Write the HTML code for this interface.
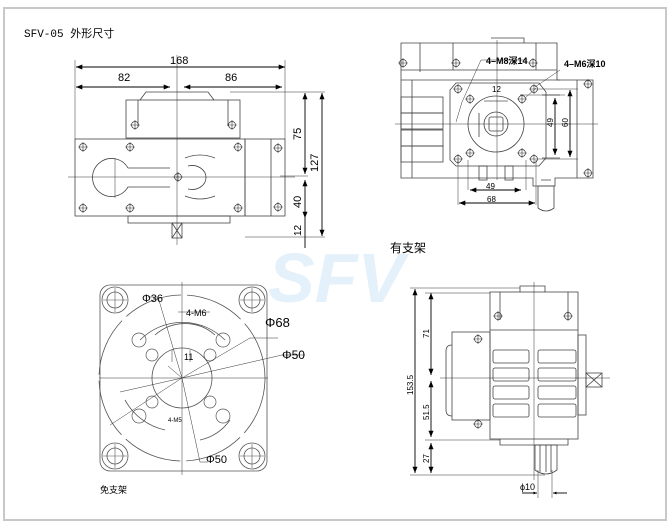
<!DOCTYPE html>
<html><head><meta charset="utf-8"><style>
html,body{margin:0;padding:0;background:#fff}
svg{display:block}
text{font-family:"Liberation Sans","Noto Sans CJK SC",sans-serif;fill:#000}
</style></head><body>
<svg width="670" height="525" viewBox="0 0 670 525" xmlns="http://www.w3.org/2000/svg">
<defs>
<marker id="a" viewBox="0 0 10 10" refX="10" refY="5" markerWidth="7" markerHeight="7" orient="auto-start-reverse"><path d="M0,1 L10,5 L0,9z" fill="#000"/></marker>
<marker id="s" viewBox="0 0 10 10" refX="10" refY="5" markerWidth="4" markerHeight="4" orient="auto-start-reverse"><path d="M0,1 L10,5 L0,9z" fill="#000"/></marker>
<g id="scr"><circle r="3.5" fill="none" stroke="#333" stroke-width=".7"/><path d="M-5,0H5M0,-5V5" stroke="#333" stroke-width=".6"/></g>
<g id="hole"><circle r="13" fill="none" stroke="#555" stroke-width=".8"/><circle r="8" fill="none" stroke="#555" stroke-width=".8"/><path d="M-12,0H12M0,-12V12" stroke="#555" stroke-width=".6"/></g>
</defs>
<rect x="4" y="8" width="662" height="512" fill="none" stroke="#c8c8c8" stroke-width="2"/>
<text x="24" y="37" font-size="11" style="font-family:'Liberation Mono','Noto Sans CJK SC',monospace">SFV-05 外形尺寸</text>

<text x="268" y="302" font-size="70" font-weight="bold" font-style="italic" style="fill:#e4f1fa">SFV</text>

<!-- ===== top-left view ===== -->
<g fill="none" stroke="#444" stroke-width=".8">
<path d="M140,100 L146,92 H208 L214,100"/>
<rect x="126" y="100" width="114" height="38"/>
<path d="M138,100V126 M228,100V126"/>
<rect x="75" y="139" width="170" height="77"/>
<rect x="245" y="139" width="40" height="77"/>
<path d="M271,139V216"/>
<rect x="128" y="216" width="102" height="7"/>
<rect x="172" y="223" width="10" height="15"/><path d="M172,223 L182,238 M182,223 L172,238"/>
<path d="M128,168 A19,19 0 1 0 128,187 H170 M128,168 H170"/>
<path d="M188,166 A14,12 0 1 1 188,189"/>
<path d="M185,158 q15,-6 30,0 M185,196 q15,6 30,0"/>
</g>
<g stroke="#333" stroke-width=".5" fill="none">
<path d="M177,55V245 M68,177H295 M115,158V198"/>
<path d="M75,60V139 M285,60V139"/>
<path d="M230,92H325 M245,237H325 M280,176H308"/>
</g>
<g>
<use href="#scr" x="83" y="147"/><use href="#scr" x="83" y="208"/><use href="#scr" x="130" y="147"/><use href="#scr" x="130" y="208"/>
<use href="#scr" x="238" y="147"/><use href="#scr" x="238" y="208"/><use href="#scr" x="135" y="125"/><use href="#scr" x="232" y="125"/>
<use href="#scr" x="278" y="148"/><use href="#scr" x="278" y="207"/><use href="#scr" x="178" y="177"/>
</g>
<g stroke="#000" stroke-width=".9" fill="none">
<line x1="76" y1="67" x2="285" y2="67" marker-start="url(#a)" marker-end="url(#a)"/>
<line x1="76" y1="87" x2="170" y2="87" marker-start="url(#a)" marker-end="url(#a)"/>
<line x1="184" y1="87" x2="282" y2="87" marker-start="url(#a)" marker-end="url(#a)"/>
<line x1="305" y1="93" x2="305" y2="174" marker-start="url(#a)" marker-end="url(#a)"/>
<line x1="305" y1="180" x2="305" y2="218" marker-start="url(#a)" marker-end="url(#a)"/>
<line x1="305" y1="218" x2="305" y2="248"/>
<line x1="322" y1="93" x2="322" y2="236" marker-start="url(#a)" marker-end="url(#a)"/>
</g>
<text x="170" y="64" font-size="11">168</text>
<text x="118" y="81" font-size="11">82</text>
<text x="225" y="81" font-size="11">86</text>
<text transform="translate(301,140) rotate(-90)" font-size="11">75</text>
<text transform="translate(301,208) rotate(-90)" font-size="11">40</text>
<text transform="translate(301,236) rotate(-90)" font-size="10">12</text>
<text transform="translate(318,172) rotate(-90)" font-size="11">127</text>

<!-- ===== top-right view ===== -->
<g fill="none" stroke="#444" stroke-width=".8">
<path d="M401,43 H557 V80 H593 V178 H555 V186 H533 V178 H401 Z"/>
<path d="M420,43V72 M401,70H557 M453,43V70 M536,43V70 M491,38H524V43"/>
<path d="M401,80H560"/>
<rect x="401" y="97" width="42" height="16"/><rect x="401" y="113" width="42" height="16"/><rect x="401" y="130" width="42" height="16"/><rect x="401" y="146" width="42" height="16"/>
<path d="M412,80V178"/>
<path d="M456,83 H539 L546,92 V158 L539,166 H456 L450,160 V90Z"/>
<circle cx="496" cy="124" r="28"/>
<circle cx="496" cy="124" r="12"/><rect x="489" y="117" width="14" height="14" rx="2"/>
<path d="M542,95 H560 M542,158 H560 M577,80 V178"/>
<rect x="479" y="166" width="8" height="14"/><rect x="505" y="166" width="8" height="14"/>
<path d="M538,186 h16 v22 q-8,6 -16,0 z M541,180h10"/>
</g>
<g stroke="#333" stroke-width=".5" fill="none">
<path d="M497,40V180 M395,124H598"/>
<path d="M458,160V205 M536,160V205 M468,160V190 M526,160V190"/>
<path d="M539,89H578 M539,159H578 M520,95H565"/>
<path d="M462,102L456,122 M525,98L536,88 M535,87L560,70 M462,102L481,60 M481,60H527"/>
</g>
<g><use href="#scr" x="458" y="89"/><use href="#scr" x="534" y="89"/><use href="#scr" x="458" y="159"/><use href="#scr" x="534" y="159"/>
<use href="#scr" x="470" y="99"/><use href="#scr" x="522" y="99"/><use href="#scr" x="470" y="153"/><use href="#scr" x="522" y="153"/>
<use href="#scr" x="403" y="63"/><use href="#scr" x="456" y="63"/><use href="#scr" x="533" y="63"/><use href="#scr" x="588" y="84"/><use href="#scr" x="588" y="173"/></g>
<g stroke="#000" stroke-width=".9" fill="none">
<line x1="470" y1="190" x2="521" y2="190" marker-start="url(#a)" marker-end="url(#a)"/>
<line x1="459" y1="203" x2="535" y2="203" marker-start="url(#a)" marker-end="url(#a)"/>
<line x1="555" y1="98" x2="555" y2="155" marker-start="url(#a)" marker-end="url(#a)"/>
<line x1="570" y1="90" x2="570" y2="157" marker-start="url(#a)" marker-end="url(#a)"/>
<line x1="484" y1="101" x2="508" y2="101" stroke-width=".6"/>
<line x1="479" y1="113" x2="479" y2="137" stroke-width=".6"/>
</g>
<text x="486" y="64" font-size="9" font-weight="bold">4–M8深14</text>
<text x="564" y="67" font-size="9" font-weight="bold">4–M6深10</text>
<text x="492" y="92" font-size="8">12</text>
<text x="486" y="189" font-size="8">49</text>
<text x="487" y="202" font-size="8">68</text>
<text transform="translate(553,127) rotate(-90)" font-size="8">49</text>
<text transform="translate(568,127) rotate(-90)" font-size="8">60</text>
<text x="390" y="252" font-size="12">有支架</text>

<!-- ===== bottom-left view ===== -->
<g fill="none" stroke="#555" stroke-width=".8">
<rect x="100" y="285" width="167" height="186" rx="10"/>
<circle cx="182" cy="378" r="83" stroke-dasharray="60 6"/>
<circle cx="182" cy="378" r="30"/>
<path d="M155,335 a45,45 0 0 1 60,0 M140,340 a60,60 0 0 1 85,0 M125,400 a60,60 0 0 0 40,30 M200,440 a50,50 0 0 0 30,-20" />
</g>
<g><use href="#hole" x="115" y="300"/><use href="#hole" x="252" y="300"/><use href="#hole" x="115" y="456"/><use href="#hole" x="252" y="456"/></g>
<g fill="none" stroke="#555" stroke-width=".7">
<circle cx="139" cy="340" r="7"/><circle cx="152" cy="355" r="6"/><circle cx="223" cy="340" r="7"/><circle cx="210" cy="355" r="6"/>
<circle cx="139" cy="416" r="7"/><circle cx="152" cy="402" r="6"/><circle cx="223" cy="416" r="7"/><circle cx="210" cy="402" r="6"/>
</g>
<g stroke="#333" stroke-width=".5" fill="none">
<path d="M182,282V475 M99,378H268"/>
<path d="M182,378L158,297 M182,378L250,338 M182,378L282,355 M182,378L120,392 M182,378L110,425 M182,378L200,462 M182,378L168,366"/>
<path d="M148,297H158 M250,338H278 M282,355H305 M200,462H208 M178,312H210"/>
<path d="M172,362V350 M190,362V350"/>
</g>
<text x="142" y="302" font-size="11">Φ36</text>
<text x="186" y="316" font-size="9">4-M6</text>
<text x="265" y="327" font-size="13">Φ68</text>
<text x="282" y="359" font-size="12">Φ50</text>
<text x="184" y="360" font-size="9">11</text>
<text x="168" y="422" font-size="6">4-M5</text>
<text x="206" y="463" font-size="11">Φ50</text>
<text x="100" y="493" font-size="9">免支架</text>

<!-- ===== bottom-right view ===== -->
<g fill="none" stroke="#444" stroke-width=".8">
<rect x="490" y="292" width="88" height="147"/>
<path d="M490,330H578 M500,292V320 M568,292V320 M520,292V286H545V292"/>
<rect x="452" y="332" width="38" height="88"/><path d="M452,345 q-6,0 -6,6 V410 q0,6 6,6"/>
<rect x="578" y="335" width="8" height="80"/>
<rect x="586" y="373" width="16" height="14"/><path d="M586,373 L602,387 M602,373 L586,387"/>
<rect x="493" y="350" width="36" height="13" rx="2"/><rect x="493" y="368" width="36" height="13" rx="2"/><rect x="493" y="386" width="36" height="13" rx="2"/><rect x="493" y="404" width="36" height="13" rx="2"/>
<rect x="538" y="350" width="38" height="13" rx="2"/><rect x="538" y="368" width="38" height="13" rx="2"/><rect x="538" y="386" width="38" height="13" rx="2"/><rect x="538" y="404" width="38" height="13" rx="2"/>
<path d="M500,439 V445 H568 V439"/>
<path d="M535,445 h22 v25 q-11,8 -22,0z M540,445V472 M546,445V472 M551,445V472"/>
</g>
<g stroke="#333" stroke-width=".5" fill="none">
<path d="M534,282V480 M440,378H610"/>
<path d="M410,288H520 M425,293H490 M425,440H500 M410,475H545"/>
<path d="M538,470V498 M552,470V498"/>
</g>
<g><use href="#scr" x="498" y="316"/><use href="#scr" x="568" y="316"/><use href="#scr" x="478" y="339"/><use href="#scr" x="478" y="424"/></g>
<g stroke="#000" stroke-width=".9" fill="none">
<line x1="415" y1="289" x2="415" y2="473" marker-start="url(#a)" marker-end="url(#a)"/>
<line x1="431" y1="293" x2="431" y2="375" marker-start="url(#a)" marker-end="url(#a)"/>
<line x1="431" y1="381" x2="431" y2="437" marker-start="url(#a)" marker-end="url(#a)"/>
<line x1="431" y1="443" x2="431" y2="473" marker-start="url(#a)" marker-end="url(#a)"/>
<line x1="522" y1="493" x2="537" y2="493" marker-end="url(#s)"/>
<line x1="567" y1="493" x2="553" y2="493" marker-end="url(#s)"/>
</g>
<text transform="translate(413,395) rotate(-90)" font-size="8">153.5</text>
<text transform="translate(429,338) rotate(-90)" font-size="8">71</text>
<text transform="translate(429,420) rotate(-90)" font-size="8">51.5</text>
<text transform="translate(429,463) rotate(-90)" font-size="8">27</text>
<text x="520" y="490" font-size="9">ϕ10</text>
</svg>
</body></html>
